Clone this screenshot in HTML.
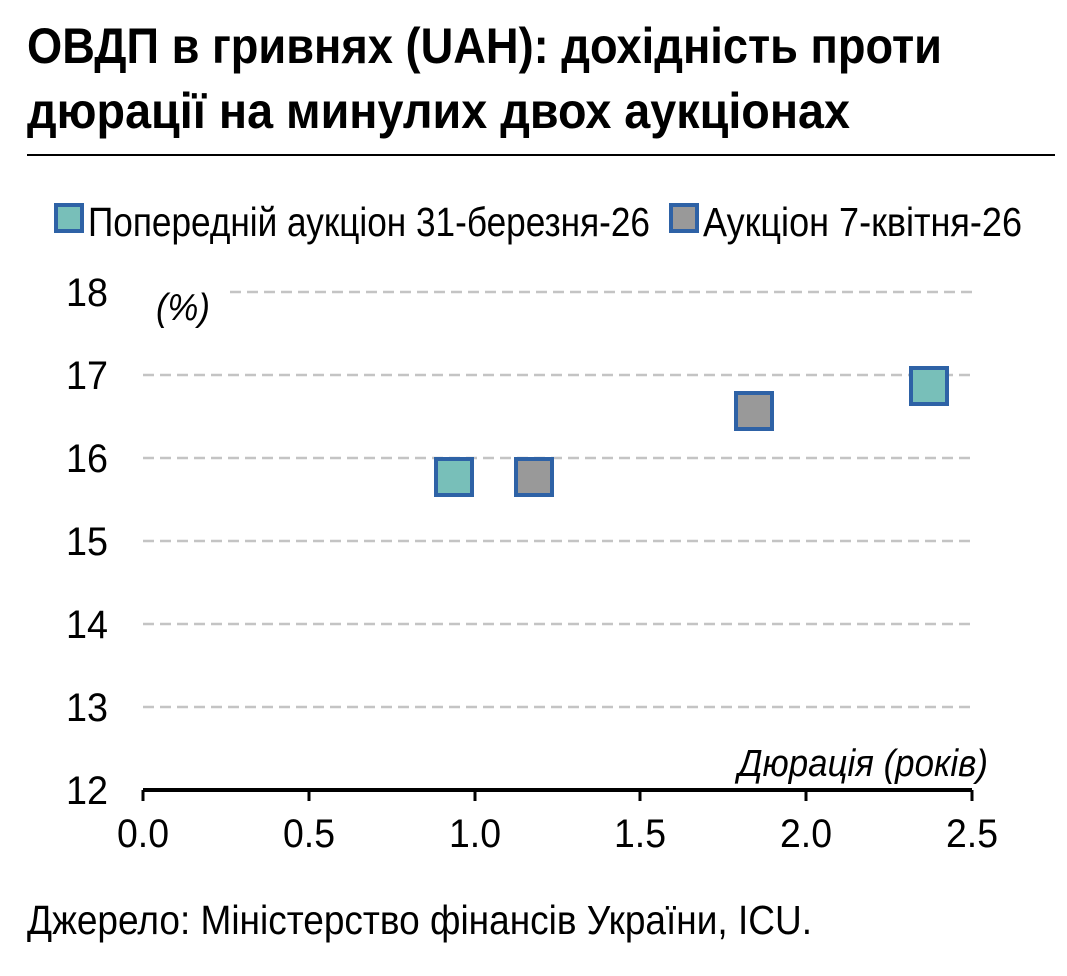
<!DOCTYPE html>
<html><head><meta charset="utf-8"><style>
html,body{margin:0;padding:0;background:#fff;}
svg{display:block;}
text{font-family:"Liberation Sans",sans-serif;fill:#000;}
</style></head><body>
<svg width="1067" height="976" viewBox="0 0 1067 976" xmlns="http://www.w3.org/2000/svg">
<text x="27" y="63" font-size="50" font-weight="bold" textLength="915" lengthAdjust="spacingAndGlyphs">ОВДП в гривнях (UAH): дохідність проти</text>
<text x="27" y="128" font-size="50" font-weight="bold" textLength="823" lengthAdjust="spacingAndGlyphs">дюрації на минулих двох аукціонах</text>
<line x1="27" y1="155" x2="1055" y2="155" stroke="#000" stroke-width="2"/>
<rect x="56" y="205" width="26" height="26" fill="#78bfb9" stroke="#2e62a6" stroke-width="4"/>
<text x="88" y="236" font-size="41" textLength="562" lengthAdjust="spacingAndGlyphs">Попередній аукціон 31-березня-26</text>
<rect x="671" y="205" width="26" height="26" fill="#999" stroke="#2e62a6" stroke-width="4"/>
<text x="703" y="236" font-size="41" textLength="319" lengthAdjust="spacingAndGlyphs">Аукціон 7-квітня-26</text>
<g stroke="#c4c4c4" stroke-width="2.5" stroke-dasharray="11,6">
<line x1="230" y1="292" x2="972" y2="292"/>
<line x1="143" y1="375" x2="972" y2="375"/>
<line x1="143" y1="458" x2="972" y2="458"/>
<line x1="143" y1="541" x2="972" y2="541"/>
<line x1="143" y1="624" x2="972" y2="624"/>
<line x1="143" y1="707" x2="972" y2="707"/>
</g>
<g font-size="40" text-anchor="end">
<text x="108" y="306" textLength="42" lengthAdjust="spacingAndGlyphs">18</text>
<text x="108" y="389" textLength="42" lengthAdjust="spacingAndGlyphs">17</text>
<text x="108" y="472" textLength="42" lengthAdjust="spacingAndGlyphs">16</text>
<text x="108" y="555" textLength="42" lengthAdjust="spacingAndGlyphs">15</text>
<text x="108" y="638" textLength="42" lengthAdjust="spacingAndGlyphs">14</text>
<text x="108" y="721" textLength="42" lengthAdjust="spacingAndGlyphs">13</text>
<text x="108" y="804" textLength="42" lengthAdjust="spacingAndGlyphs">12</text>
</g>
<text x="156" y="320" font-size="38" font-style="italic" textLength="54" lengthAdjust="spacingAndGlyphs">(%)</text>
<text x="738" y="776" font-size="38" font-style="italic" textLength="250" lengthAdjust="spacingAndGlyphs">Дюрація (років)</text>
<line x1="143" y1="790" x2="972" y2="790" stroke="#000" stroke-width="4"/>
<g stroke="#000" stroke-width="3">
<line x1="143" y1="790" x2="143" y2="801"/>
<line x1="309" y1="790" x2="309" y2="801"/>
<line x1="475" y1="790" x2="475" y2="801"/>
<line x1="640" y1="790" x2="640" y2="801"/>
<line x1="806" y1="790" x2="806" y2="801"/>
<line x1="972" y1="790" x2="972" y2="801"/>
</g>
<g font-size="40" text-anchor="middle">
<text x="143" y="847" textLength="52" lengthAdjust="spacingAndGlyphs">0.0</text>
<text x="309" y="847" textLength="52" lengthAdjust="spacingAndGlyphs">0.5</text>
<text x="475" y="847" textLength="52" lengthAdjust="spacingAndGlyphs">1.0</text>
<text x="640" y="847" textLength="52" lengthAdjust="spacingAndGlyphs">1.5</text>
<text x="806" y="847" textLength="52" lengthAdjust="spacingAndGlyphs">2.0</text>
<text x="972" y="847" textLength="52" lengthAdjust="spacingAndGlyphs">2.5</text>
</g>
<g stroke="#2e62a6" stroke-width="4">
<rect x="436" y="459" width="36" height="36" fill="#78bfb9"/>
<rect x="516" y="459" width="36" height="36" fill="#999"/>
<rect x="736" y="393" width="36" height="36" fill="#999"/>
<rect x="911" y="368" width="36" height="36" fill="#78bfb9"/>
</g>
<text x="27" y="934" font-size="41" textLength="785" lengthAdjust="spacingAndGlyphs">Джерело: Міністерство фінансів України, ICU.</text>
</svg>
</body></html>
